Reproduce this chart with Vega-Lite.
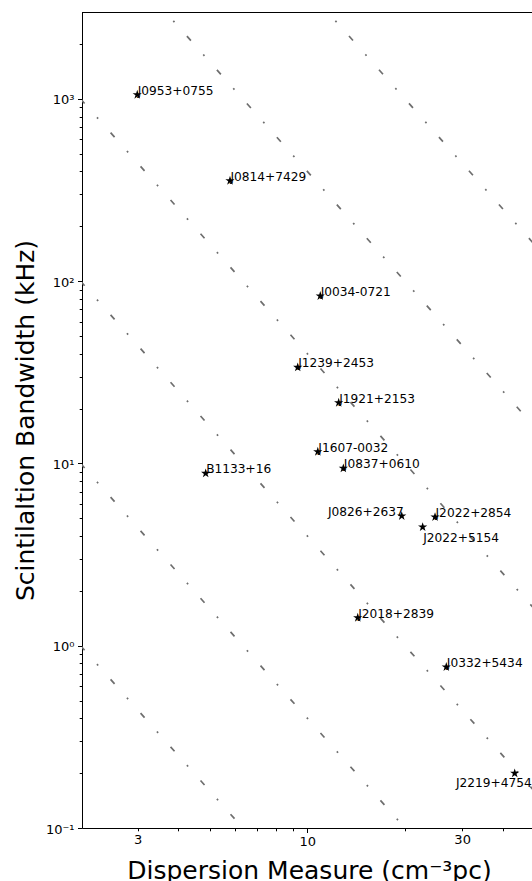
{
  "$schema": "https://vega.github.io/schema/vega-lite/v6.json",
  "width": 450,
  "height": 816,
  "autosize": {"type": "none"},
  "padding": {"left": 82, "top": 12, "right": 0, "bottom": 53},
  "config": {
    "view": {"stroke": null},
    "font": "DejaVu Sans",
    "axis": {"grid": false, "domainColor": "black", "domainWidth": 1, "tickColor": "black", "tickWidth": 1, "labelColor": "black", "labelFont": "DejaVu Sans", "labelFontSize": 13, "titleFont": "DejaVu Sans", "titleFontSize": 25, "titleFontWeight": "normal", "titleColor": "black", "labelFlush": false, "labelOverlap": false}
  },
  "datasets": {
    "pulsars": [
      {"name": "J0953+0755", "dm": 2.99, "bw": 1055},
      {"name": "J0814+7429", "dm": 5.775, "bw": 356},
      {"name": "J0034-0721", "dm": 10.96, "bw": 83.0},
      {"name": "J1239+2453", "dm": 9.34, "bw": 33.7},
      {"name": "J1921+2153", "dm": 12.49, "bw": 21.55},
      {"name": "J1607-0032", "dm": 10.77, "bw": 11.6},
      {"name": "J0837+0610", "dm": 12.91, "bw": 9.41},
      {"name": "B1133+16", "dm": 4.86, "bw": 8.83},
      {"name": "J0826+2637", "dm": 19.54, "bw": 5.15},
      {"name": "J2022+2854", "dm": 24.75, "bw": 5.085},
      {"name": "J2022+5154", "dm": 22.67, "bw": 4.48},
      {"name": "J2018+2839", "dm": 14.3, "bw": 1.425},
      {"name": "J0332+5434", "dm": 26.81, "bw": 0.7645},
      {"name": "J2219+4754", "dm": 43.57, "bw": 0.1996}
    ],
    "lines": [
      {"line": "c4", "dm": 2, "bw": 1},
      {"line": "c4", "dm": 60, "bw": 0.0011111},
      {"line": "c40", "dm": 2, "bw": 10},
      {"line": "c40", "dm": 60, "bw": 0.011111},
      {"line": "c400", "dm": 2, "bw": 100},
      {"line": "c400", "dm": 60, "bw": 0.11111},
      {"line": "c4000", "dm": 2, "bw": 1000},
      {"line": "c4000", "dm": 60, "bw": 1.1111},
      {"line": "c40000", "dm": 2.779, "bw": 5179.5},
      {"line": "c40000", "dm": 60, "bw": 11.111},
      {"line": "c400000", "dm": 10.864, "bw": 3389},
      {"line": "c400000", "dm": 60, "bw": 111.11}
    ],
    "frame": [{"bw": 3000}]
  },
  "layer": [
    {
      "data": {"name": "lines"},
      "mark": {"type": "line", "clip": true, "color": "#6e6e6e", "strokeWidth": 1.7, "strokeDash": [6, 18.6, 1.8, 18.7]},
      "encoding": {
        "x": {
          "field": "dm", "type": "quantitative",
          "scale": {"type": "log", "domain": [2.02, 49.26], "nice": false},
          "axis": {
            "values": [3, 4, 5, 6, 7, 8, 9, 10, 20, 30, 40],
            "labelExpr": "datum.value == 3 ? '3' : datum.value == 10 ? '10' : datum.value == 30 ? '30' : ''",
            "tickSize": {"condition": {"test": "datum.value == 10", "value": 4.5}, "value": 2.8},
            "labelPadding": 2.5,
            "title": "Dispersion Measure (cm⁻³pc)",
            "titleX": 227, "titleY": 50, "titleBaseline": "alphabetic", "titleAlign": "center"
          }
        },
        "y": {
          "field": "bw", "type": "quantitative",
          "scale": {"type": "log", "domain": [0.1, 3000], "nice": false},
          "axis": {
            "values": [0.1, 0.2, 0.3, 0.4, 0.5, 0.6, 0.7, 0.8, 0.9, 1, 2, 3, 4, 5, 6, 7, 8, 9, 10, 20, 30, 40, 50, 60, 70, 80, 90, 100, 200, 300, 400, 500, 600, 700, 800, 900, 1000, 2000],
            "labelExpr": "datum.value == 1000 ? '10³' : datum.value == 100 ? '10²' : datum.value == 10 ? '10¹' : datum.value == 1 ? '10⁰' : datum.value == 0.1 ? '10⁻¹' : ''",
            "tickSize": {"condition": {"test": "indexof([0.1, 1, 10, 100, 1000], datum.value) >= 0", "value": 4.5}, "value": 2.8},
            "labelPadding": 3.5,
            "labelOffset": 1,
            "title": "Scintilaltion Bandwidth (kHz)",
            "titleX": -49, "titleY": 408, "titleAngle": 270, "titleBaseline": "alphabetic", "titleAlign": "center"
          }
        },
        "detail": {"field": "line"}
      }
    },
    {
      "data": {"name": "frame"},
      "mark": {"type": "rule", "color": "black", "strokeWidth": 1, "yOffset": 0.5},
      "encoding": {"y": {"field": "bw", "type": "quantitative"}}
    },
    {
      "data": {"name": "pulsars"},
      "mark": {"type": "point", "shape": "M0,-1L0.2245,-0.309L0.951,-0.309L0.363,0.118L0.588,0.809L0,0.382L-0.588,0.809L-0.363,0.118L-0.951,-0.309L-0.2245,-0.309Z", "filled": true, "color": "black", "opacity": 1, "size": 95},
      "encoding": {
        "x": {"field": "dm", "type": "quantitative"},
        "y": {"field": "bw", "type": "quantitative"}
      }
    },
    {
      "data": {"name": "pulsars"},
      "transform": [{"filter": {"not": {"field": "name", "oneOf": ["J0826+2637", "J2022+5154", "J2219+4754"]}}}],
      "mark": {"type": "text", "align": "left", "baseline": "alphabetic", "dx": 0.5, "font": "DejaVu Sans", "fontSize": 12.2, "color": "black"},
      "encoding": {
        "x": {"field": "dm", "type": "quantitative"},
        "y": {"field": "bw", "type": "quantitative"},
        "text": {"field": "name"}
      }
    },
    {
      "data": {"name": "pulsars"},
      "transform": [{"filter": {"field": "name", "equal": "J0826+2637"}}],
      "mark": {"type": "text", "align": "right", "baseline": "alphabetic", "dx": 2, "font": "DejaVu Sans", "fontSize": 12.2, "color": "black"},
      "encoding": {
        "x": {"field": "dm", "type": "quantitative"},
        "y": {"field": "bw", "type": "quantitative"},
        "text": {"field": "name"}
      }
    },
    {
      "data": {"name": "pulsars"},
      "transform": [{"filter": {"field": "name", "equal": "J2022+5154"}}],
      "mark": {"type": "text", "align": "left", "baseline": "alphabetic", "dx": 0.5, "dy": 15, "font": "DejaVu Sans", "fontSize": 12.2, "color": "black"},
      "encoding": {
        "x": {"field": "dm", "type": "quantitative"},
        "y": {"field": "bw", "type": "quantitative"},
        "text": {"field": "name"}
      }
    },
    {
      "data": {"name": "pulsars"},
      "transform": [{"filter": {"field": "name", "equal": "J2219+4754"}}],
      "mark": {"type": "text", "align": "left", "baseline": "alphabetic", "dx": -58.7, "dy": 14, "font": "DejaVu Sans", "fontSize": 12.2, "color": "black"},
      "encoding": {
        "x": {"field": "dm", "type": "quantitative"},
        "y": {"field": "bw", "type": "quantitative"},
        "text": {"field": "name"}
      }
    }
  ]
}
